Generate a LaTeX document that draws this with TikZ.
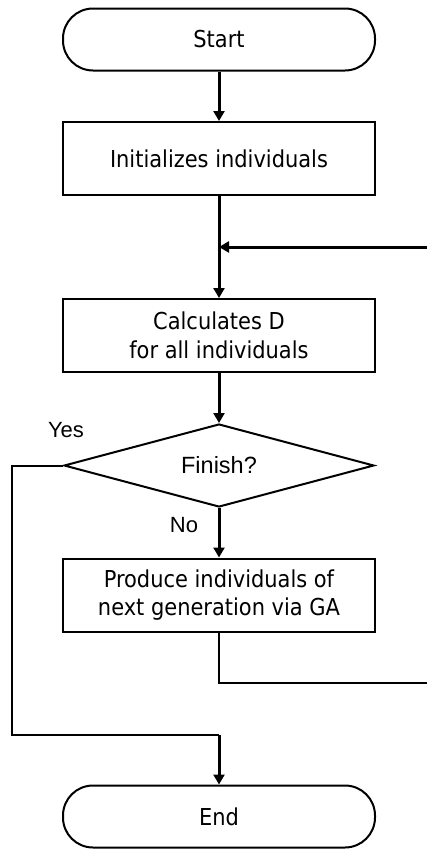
\documentclass[tikz,border=0pt]{standalone}
\usepackage{fontspec}
\setmainfont{DejaVu Sans Condensed}
\newfontfamily\arialf{Liberation Sans}
\usetikzlibrary{shapes.geometric,arrows.meta}
\begin{document}
\begin{tikzpicture}[x=1pt,y=-1pt,
  box/.style={draw,line width=2pt,minimum width=312pt,minimum height=73pt,align=center,inner sep=0pt,font=\fontsize{23.3}{28.5}\selectfont},
  term/.style={box,rounded corners=30pt,minimum height=62pt},
  dec/.style={diamond,draw,line width=2pt,minimum width=310pt,minimum height=83pt,aspect=3.73,inner sep=0pt,font=\arialf\fontsize{23.5}{28}\selectfont},
  lab/.style={font=\arialf\fontsize{22}{26}\selectfont,inner sep=0pt},
  arr/.style={line width=3pt,-{Triangle[length=10pt,width=11pt]}},
  conn/.style={line width=2pt}]
\useasboundingbox (0,0) rectangle (427,849);
\node[term] (start) at (219,39.5) {Start};
\node[box] (init) at (219,158.5) {Initializes individuals};
\node[box] (calc) at (219,335.5) {Calculates D\\for all individuals};
\node[dec] (dia) at (219,465.5) {Finish?};
\node[box] (prod) at (219,595) {Produce individuals of\\next generation via GA};
\node[term] (end) at (219,816.5) {End};
\node[lab] (yes) at (66,430) {Yes};
\node[lab] (no) at (184,525) {No};
\coordinate (fb) at (219,247);
\coordinate (fbr) at (427,247);
\coordinate (lp) at (219,683);
\coordinate (lpr) at (427,683);
\coordinate (yl) at (12,465.5);
\coordinate (yb) at (12,735);
\coordinate (yj) at (219,735);
\draw[arr] (start) -- (init);
\draw[arr] (init) -- (calc);
\draw[arr] (fbr) -- (fb);
\draw[arr] (calc) -- (dia);
\draw[arr] (dia) -- (prod);
\draw[conn] (prod.south) -- (lp) -- (lpr);
\draw[conn] (dia.west) -- (yl) -- (yb) -- (yj);
\draw[arr] (yj) -- (end);
\end{tikzpicture}
\end{document}
